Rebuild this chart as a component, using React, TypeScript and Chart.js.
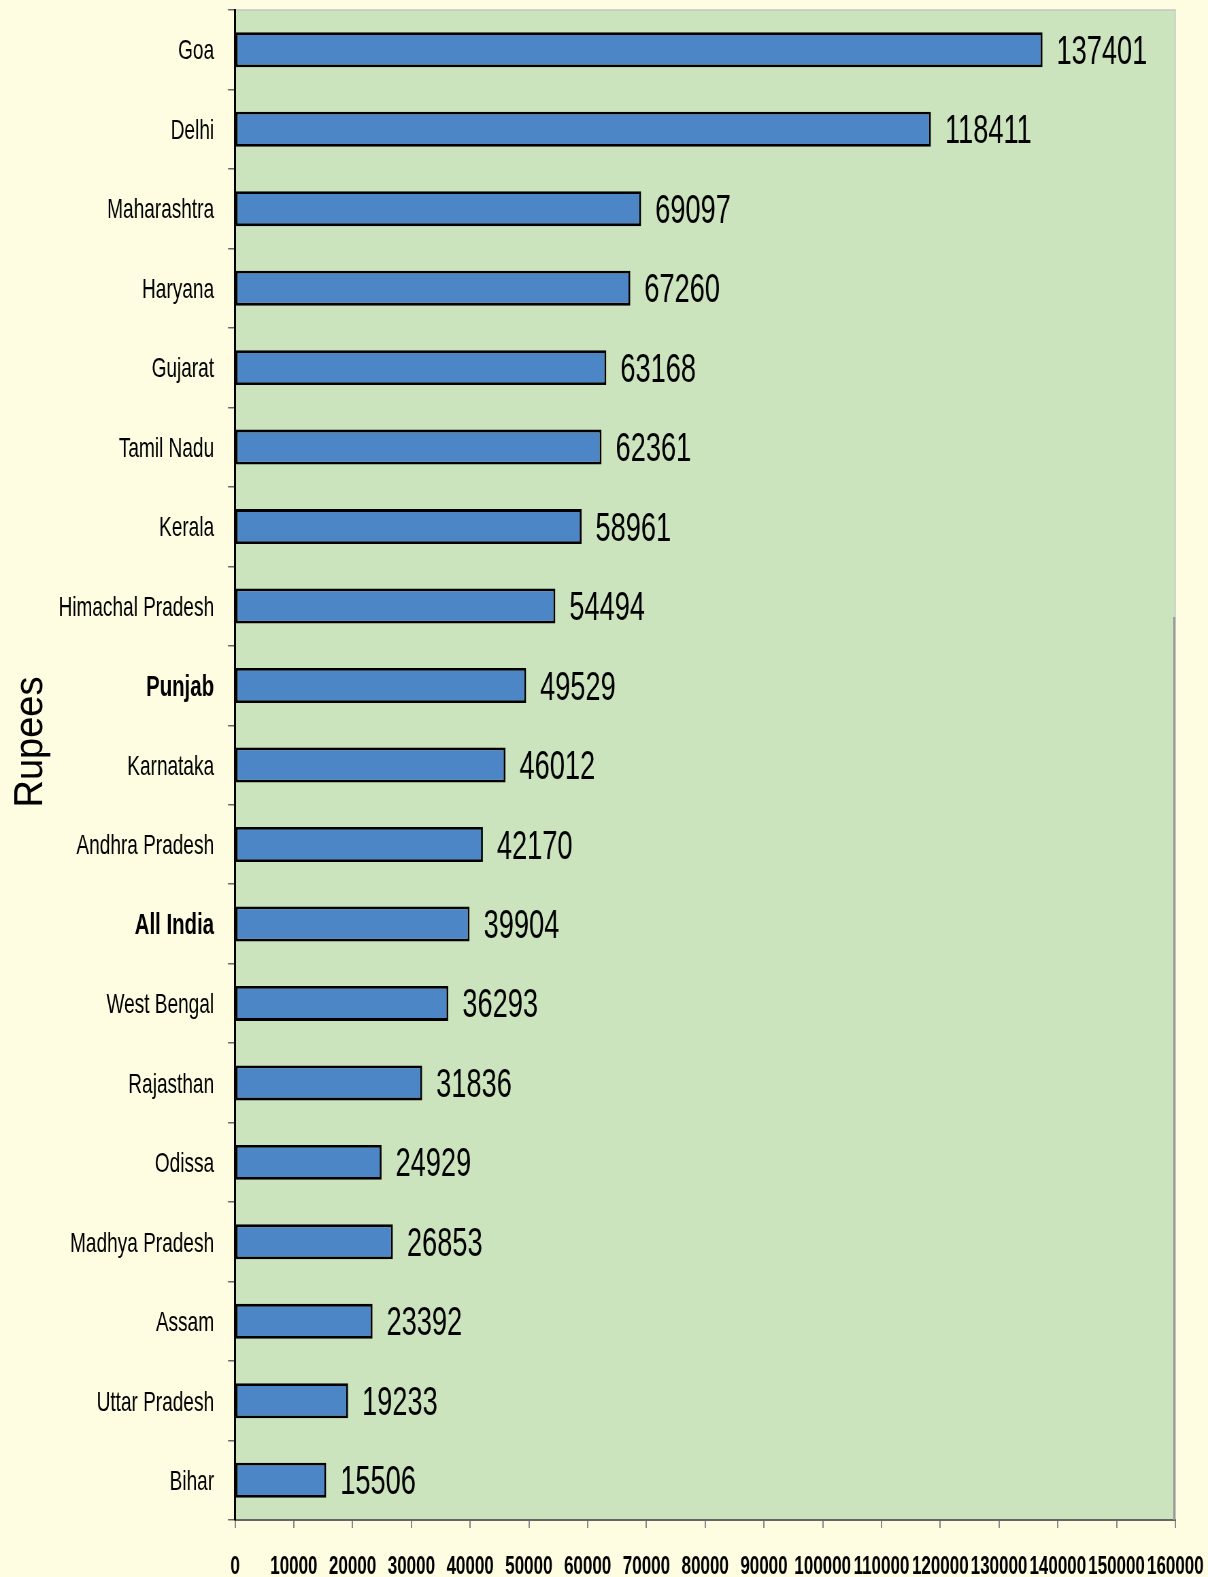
import React, { useEffect, useRef } from "react";
import { Chart, registerables } from "chart.js";

Chart.register(...registerables);

const categories = [
  "Goa", "Delhi", "Maharashtra", "Haryana", "Gujarat", "Tamil Nadu", "Kerala",
  "Himachal Pradesh", "Punjab", "Karnataka", "Andhra Pradesh", "All India",
  "West Bengal", "Rajasthan", "Odissa", "Madhya Pradesh", "Assam",
  "Uttar Pradesh", "Bihar",
];
const values = [
  137401, 118411, 69097, 67260, 63168, 62361, 58961, 54494, 49529, 46012,
  42170, 39904, 36293, 31836, 24929, 26853, 23392, 19233, 15506,
];
const boldCategories = ["Punjab", "All India"];
const xMin = 0;
const xMax = 160000;
const xStep = 10000;
const axisTitle = "Rupees";

const PAGE_W = 1208;
const PAGE_H = 1577;
const SQUEEZE = 0.68; // horizontal compression of the whole picture
const LOGICAL_W = Math.round(PAGE_W / SQUEEZE);
const SANS = "'Liberation Sans', Arial, sans-serif";

const bgPlugin = {
  id: "bgPlugin",
  beforeDraw(chart: any) {
    const { ctx, width, height, chartArea: a } = chart;
    ctx.save();
    ctx.fillStyle = "#FFFDE1";
    ctx.fillRect(0, 0, width, height);
    ctx.fillStyle = "#CCE4BE";
    ctx.fillRect(a.left, a.top, a.right - a.left, a.bottom - a.top);
    ctx.strokeStyle = "#C4C4C4";
    ctx.lineWidth = 1.5;
    ctx.beginPath();
    ctx.moveTo(a.left, a.top);
    ctx.lineTo(a.right, a.top);
    ctx.lineTo(a.right, a.bottom);
    ctx.stroke();
    ctx.restore();
  },
  afterDraw(chart: any) {
    const { ctx, chartArea: a } = chart;
    ctx.save();
    // darker lower right border
    ctx.strokeStyle = "#999999";
    ctx.lineWidth = 3;
    ctx.beginPath();
    ctx.moveTo(a.right - 1.5, 617);
    ctx.lineTo(a.right - 1.5, a.bottom);
    ctx.stroke();
    // axis title
    ctx.translate(31 / SQUEEZE, 742);
    ctx.scale(1.57, 1);
    ctx.rotate(-Math.PI / 2);
    ctx.fillStyle = "#000";
    ctx.font = `38px ${SANS}`;
    ctx.textAlign = "center";
    ctx.textBaseline = "middle";
    ctx.fillText(axisTitle, 0, 0);
    ctx.restore();
  },
  afterDatasetsDraw(chart: any) {
    const { ctx } = chart;
    const meta = chart.getDatasetMeta(0);
    ctx.save();
    ctx.fillStyle = "#000";
    ctx.font = `40px ${SANS}`;
    ctx.textAlign = "left";
    ctx.textBaseline = "middle";
    meta.data.forEach((el: any, i: number) => {
      ctx.fillText(String(values[i]), el.x + 14 / SQUEEZE, el.y + 3);
    });
    ctx.restore();
  },
};

export default function App() {
  const ref = useRef<HTMLCanvasElement | null>(null);
  useEffect(() => {
    document.body.style.margin = "0";
    const canvas = ref.current!;
    const chart = new Chart(canvas, {
      type: "bar",
      data: {
        labels: categories,
        datasets: [
          {
            data: values,
            backgroundColor: "#4C86C6",
            borderColor: "#000000",
            borderWidth: 2.8,
            borderSkipped: false,
            categoryPercentage: 1,
            barPercentage: 0.44,
          },
        ],
      },
      options: {
        indexAxis: "y",
        responsive: false,
        animation: false,
        devicePixelRatio: 1,
        layout: { padding: { top: 10, right: LOGICAL_W - 1175 / SQUEEZE, left: 0, bottom: 0 } },
        plugins: { legend: { display: false }, tooltip: { enabled: false } },
        scales: {
          x: {
            type: "linear",
            min: xMin,
            max: xMax,
            ticks: {
              stepSize: xStep,
              autoSkip: false,
              maxRotation: 0,
              minRotation: 0,
              color: "#000",
              padding: 24,
              font: { family: SANS, size: 25, weight: "bold" },
              callback: (v: any) => String(v),
            },
            grid: { drawOnChartArea: false, tickLength: 8, color: "#888888", lineWidth: 2 },
            border: { color: "#666666", width: 2 },
            afterFit: (s: any) => {
              s.height = PAGE_H - 1520;
              s.paddingLeft = 0;
              s.paddingRight = 0;
            },
          },
          y: {
            type: "category",
            ticks: {
              autoSkip: false,
              color: "#000",
              padding: 14 / SQUEEZE,
              labelOffset: 2,
              font: (c: any) => {
                const bold = boldCategories.includes(categories[c.index]);
                return { family: SANS, size: bold ? 30 : 28, weight: bold ? "bold" : "normal" };
              },
            },
            grid: { drawOnChartArea: false, tickLength: 7 / SQUEEZE, color: "#666666", offset: true, lineWidth: 1.5 },
            border: { color: "#000000", width: 3 },
            afterFit: (s: any) => {
              s.width = 235 / SQUEEZE;
              s.paddingTop = 0;
              s.paddingBottom = 0;
            },
          },
        },
      },
      plugins: [bgPlugin],
    } as any);
    return () => chart.destroy();
  }, []);
  return (
    <canvas
      ref={ref}
      width={LOGICAL_W}
      height={PAGE_H}
      style={{ width: `${PAGE_W}px`, height: `${PAGE_H}px`, display: "block" }}
    />
  );
}
